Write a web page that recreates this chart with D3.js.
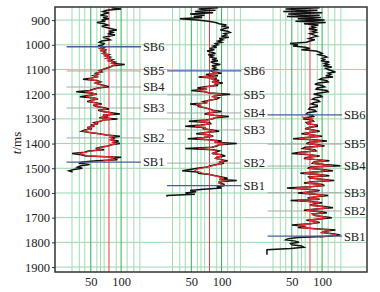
<!DOCTYPE html>
<html>
<head>
<meta charset="utf-8">
<script src="https://cdn.jsdelivr.net/npm/d3@7"></script>
<style>
  body { margin: 0; background: #fff; }
  svg { display: block; font-family: "Liberation Serif", "DejaVu Serif", serif; }
</style>
</head>
<body>
<svg id="chart"></svg>
<script>
// ---- data ----
const timeTicks = [900, 1000, 1100, 1200, 1300, 1400, 1500, 1600, 1700, 1800, 1900];
const xTicks = [50, 100];
const gridValues = [19, 31, 40, 50, 60, 66, 72, 92, 100, 110, 121, 131];
const majorGrid = [50, 100];
const cutoff = 80;
const sbNames = ['SB6', 'SB5', 'SB4', 'SB3', 'SB2', 'SB1'];
const blueNames = ['SB6', 'SB1'];

// boundaries (ms) for each well
const sbWell1 = [1008, 1106, 1171, 1256, 1377, 1475];
const sbWell2 = [1106, 1203, 1276, 1345, 1479, 1570];
const sbWell3 = [1284, 1402, 1491, 1599, 1673, 1775];

// logs: one sample every 5 ms
const logStep = 5;

const logStart1 = 850;
const log1 = [
  84, 100, 76, 70, 80, 72, 66, 78, 70, 80,
  68, 74, 60, 72, 78, 68, 76, 84, 93, 80,
  86, 78, 90, 80, 70, 78, 82, 68, 64, 72,
  70, 62, 72, 66, 76, 68, 74, 70, 80, 74,
  82, 76, 86, 80, 90, 84, 106, 86, 82, 76,
  70, 64, 68, 58, 62, 54, 60, 50, 37, 60,
  66, 58, 64, 72, 80, 62, 54, 48, 26, 50,
  60, 46, 32, 56, 62, 50, 44, 58, 68, 54,
  60, 72, 80, 62, 70, 84, 98, 70, 78, 64,
  94, 70, 66, 56, 62, 50, 56, 44, 52, 40,
  35, 48, 64, 76, 98, 84, 88, 82, 96, 86,
  98, 84, 78, 66, 58, 72, 46, 40, 19, 34,
  42, 100, 86, 94, 60, 36, 30, 48, 34, 28,
  36, 22, 14, 20];
const redStart1 = 1010;
const red1 = [
  70, 66, 74, 68, 72, 70, 78, 74,
  80, 76, 84, 80, 88, 84, 92, 86, 80, 74,
  70, 64, 66, 60, 62, 56, 60, 52, 46, 58,
  64, 58, 64, 70, 76, 62, 56, 50, 40, 52,
  58, 48, 42, 56, 60, 52, 48, 58, 64, 56,
  60, 70, 76, 64, 70, 80, 88, 72, 76, 66,
  84, 70, 64, 58, 60, 52, 54, 46, 50, 42,
  38, 48, 62, 74, 88, 82, 86, 82, 90, 86,
  92, 84, 78, 68, 60, 68, 50, 42, 30, 38,
  44, 90, 84, 88, 70];

const logStart2 = 850;
const log2 = [
  94, 62, 90, 56, 86, 48, 72, 54, 68, 31,
  60, 78, 90, 96, 108, 100, 112, 104, 98, 110,
  114, 104, 108, 100, 112, 96, 102, 94, 100, 90,
  94, 86, 92, 80, 88, 76, 84, 90, 78, 86,
  80, 92, 84, 94, 82, 88, 98, 84, 90, 86,
  92, 82, 86, 100, 74, 94, 62, 92, 86, 96,
  84, 102, 88, 94, 72, 60, 76, 50, 72, 80,
  114, 90, 86, 96, 92, 80, 70, 76, 48, 64,
  62, 72, 80, 86, 100, 80, 72, 88, 112, 90,
  86, 74, 46, 80, 82, 66, 40, 72, 70, 84,
  96, 74, 58, 80, 86, 70, 44, 80, 100, 88,
  125, 96, 92, 84, 40, 86, 96, 90, 84, 100,
  106, 92, 90, 100, 110, 96, 104, 92, 82, 76,
  60, 48, 35, 60, 62, 80, 90, 100, 110, 96,
  125, 96, 96, 104, 104, 92, 100, 70, 48, 58,
  40, 56, 10, 10];
const redStart2 = 1110;
const red2 = [
  86, 94, 80, 90, 68, 88, 84, 92,
  84, 96, 88, 90, 76, 66, 76, 62, 72, 80,
  100, 90, 86, 92, 88, 80, 74, 76, 58, 66,
  64, 72, 80, 84, 94, 80, 76, 86, 100, 88,
  84, 76, 60, 78, 80, 68, 56, 72, 72, 82,
  90, 76, 64, 80, 84, 72, 60, 80, 94, 88,
  108, 94, 90, 84, 62, 84, 92, 90, 86, 98,
  100, 92, 90, 98, 104, 96, 100, 92, 84, 76,
  66, 58, 56, 64, 68, 80, 88, 96, 104, 96,
  108, 96, 96, 100, 98];

const logStart3 = 850;
const log3 = [
  96, 40, 92, 36, 100, 44, 96, 42, 98, 60,
  104, 56, 106, 70, 94, 82, 88, 78, 92, 84,
  90, 80, 86, 92, 84, 78, 88, 80, 74, 47,
  60, 52, 72, 80, 66, 90, 96, 100, 94, 104,
  108, 100, 104, 98, 112, 104, 110, 102, 116, 106,
  110, 116, 122, 110, 114, 106, 118, 100, 96, 108,
  110, 94, 88, 100, 104, 92, 90, 108, 110, 96,
  86, 98, 100, 88, 84, 94, 96, 86, 82, 92,
  92, 80, 78, 88, 90, 76, 74, 84, 86, 72,
  70, 84, 86, 74, 76, 92, 92, 78, 72, 86,
  96, 80, 66, 84, 100, 74, 52, 86, 108, 80,
  74, 94, 104, 72, 68, 88, 90, 64, 50, 80,
  96, 76, 70, 90, 112, 86, 84, 104, 130, 82,
  76, 100, 118, 86, 64, 96, 112, 78, 80, 104,
  120, 84, 70, 98, 104, 80, 42, 76, 96, 84,
  60, 88, 110, 90, 76, 96, 48, 80, 100, 86,
  80, 104, 118, 90, 70, 96, 108, 84, 86, 100,
  116, 96, 74, 90, 96, 80, 50, 72, 60, 90,
  122, 104, 100, 118, 130, 110, 60, 44, 40, 56,
  62, 48, 50, 66, 70, 48, 9, 9, 9, 9,
  9];
const redStart3 = 1290;
const red3 = [
  67, 70,
  84, 80, 84, 76, 78, 90, 88, 78, 74, 84,
  92, 80, 70, 84, 96, 76, 62, 84, 100, 82,
  78, 92, 100, 76, 72, 86, 88, 68, 60, 80,
  92, 78, 74, 90, 106, 86, 86, 100, 118, 84,
  80, 98, 110, 86, 70, 94, 106, 80, 82, 100,
  112, 86, 74, 96, 100, 80, 56, 78, 92, 84,
  68, 88, 104, 90, 78, 94, 60, 80, 96, 86,
  82, 100, 110, 90, 74, 94, 102, 84, 86, 98,
  108, 94, 78, 90, 92, 80, 60, 74, 66, 88,
  114, 104, 100, 114, 124, 108, 96];

// ---- layout ----
const width = 380, height = 292;
const frameLeft = 55, frameTop = 7, frameRight = 367, frameBottom = 272;
const panelLeft = 60.5, panelStep = 100.5, panelWidth = 100.6;
const labelAt = 136;

const wells = [
  { sb: sbWell1, log: log1, logStart: logStart1, red: red1, redStart: redStart1 },
  { sb: sbWell2, log: log2, logStart: logStart2, red: red2, redStart: redStart2 },
  { sb: sbWell3, log: log3, logStart: logStart3, red: red3, redStart: redStart3 }
];

const svg = d3.select('#chart')
  .attr('width', width)
  .attr('height', height)
  .attr('viewBox', [0, 0, width, height]);

const y = d3.scaleLinear().domain([847, 1920]).range([frameTop, frameBottom]);

// horizontal grid
svg.append('g').selectAll('line')
  .data(timeTicks)
  .join('line')
  .attr('x1', frameLeft).attr('x2', frameRight)
  .attr('y1', (d) => y(d)).attr('y2', (d) => y(d))
  .attr('stroke', '#98d8ab')
  .attr('stroke-width', 1);

wells.forEach((w, i) => {
  const x0 = panelLeft + i * panelStep;
  const x = d3.scaleLinear().domain([0, 166]).range([x0, x0 + panelWidth]);
  const g = svg.append('g');

  // vertical grid
  g.append('g').selectAll('line')
    .data(gridValues)
    .join('line')
    .attr('x1', (d) => x(d)).attr('x2', (d) => x(d))
    .attr('y1', frameTop).attr('y2', frameBottom)
    .attr('stroke', (d) => majorGrid.includes(d) ? '#2fae55' : '#9edcb0')
    .attr('stroke-width', 1);

  // cutoff line
  g.append('line')
    .attr('x1', x(cutoff)).attr('x2', x(cutoff))
    .attr('y1', frameTop).attr('y2', frameBottom)
    .attr('stroke', '#ec3b3b')
    .attr('stroke-width', 1);

  const sbData = w.sb.map((t, k) => ({ name: sbNames[k], t }));

  // grey boundary lines under the logs
  g.append('g').selectAll('line')
    .data(sbData.filter((d) => !blueNames.includes(d.name)))
    .join('line')
    .attr('x1', x(10)).attr('x2', x(labelAt) - 2)
    .attr('y1', (d) => y(d.t)).attr('y2', (d) => y(d.t))
    .attr('stroke', '#a8a8a8')
    .attr('stroke-width', 1);

  const line = (start) => d3.line()
    .x((d) => x(d))
    .y((d, k) => y(start + k * logStep));

  g.append('path')
    .datum(w.log)
    .attr('d', line(w.logStart))
    .attr('fill', 'none')
    .attr('stroke', '#111')
    .attr('stroke-width', 1.5);

  g.append('path')
    .datum(w.red)
    .attr('d', line(w.redStart))
    .attr('fill', 'none')
    .attr('stroke', '#e8282c')
    .attr('stroke-width', 1.2);

  // blue boundary lines on top
  g.append('g').selectAll('line')
    .data(sbData.filter((d) => blueNames.includes(d.name)))
    .join('line')
    .attr('x1', x(10)).attr('x2', x(labelAt) - 2)
    .attr('y1', (d) => y(d.t)).attr('y2', (d) => y(d.t))
    .attr('stroke', '#4d5c9c')
    .attr('stroke-width', 1.3);

  g.append('g').selectAll('text')
    .data(sbData)
    .join('text')
    .attr('x', x(labelAt))
    .attr('y', (d) => y(d.t))
    .attr('dy', '0.35em')
    .style('font-size', '12.5px')
    .attr('fill', '#222')
    .text((d) => d.name);

  // x axis labels
  g.append('g')
    .attr('transform', `translate(0,${frameBottom})`)
    .call(d3.axisBottom(x).tickValues(xTicks).tickSize(0).tickPadding(5))
    .call((a) => a.select('.domain').remove())
    .call((a) => a.selectAll('text')
      .style('font-size', '12.5px')
      .style('font-family', '"Liberation Serif", serif')
      .attr('fill', '#222'));
});

// frame
svg.append('rect')
  .attr('x', frameLeft).attr('y', frameTop)
  .attr('width', frameRight - frameLeft)
  .attr('height', frameBottom - frameTop)
  .attr('fill', 'none')
  .attr('stroke', '#333')
  .attr('stroke-width', 1.5);

// y axis
svg.append('g')
  .attr('transform', `translate(${frameLeft},0)`)
  .call(d3.axisLeft(y).tickValues(timeTicks).tickSize(3).tickPadding(2).tickFormat(d3.format('d')))
  .call((a) => a.select('.domain').remove())
  .call((a) => a.selectAll('line').attr('stroke', '#333'))
  .call((a) => a.selectAll('text')
    .style('font-size', '12.5px')
    .style('font-family', '"Liberation Serif", serif')
    .attr('fill', '#222'));

const yLabel = svg.append('text')
  .attr('transform', 'translate(21,143) rotate(-90)')
  .attr('text-anchor', 'middle')
  .style('font-size', '13px')
  .attr('fill', '#222');
yLabel.append('tspan').style('font-style', 'italic').text('t');
yLabel.append('tspan').text('/ms');
</script>
</body>
</html>
